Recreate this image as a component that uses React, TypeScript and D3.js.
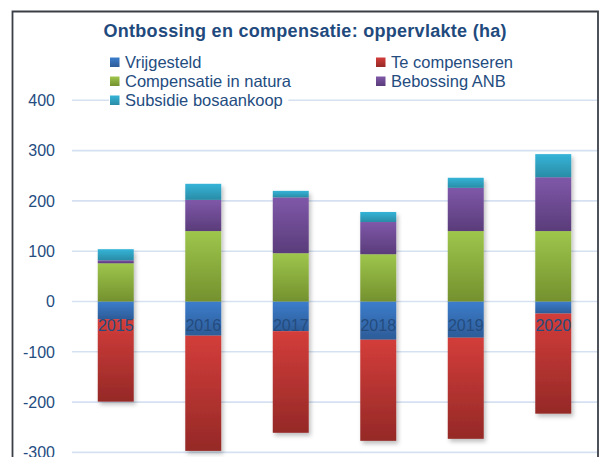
import React from "react";
import * as d3 from "d3";

const years = ["2015", "2016", "2017", "2018", "2019", "2020"];
const vrijgesteld = [-35, -68, -59, -76, -72, -24];
const teCompenseren = [-164, -229, -202, -201, -201, -199];
const compensatieNatura = [76, 140, 96, 94, 140, 140];
const bebossingANB = [6, 62, 111, 64, 86, 107];
const subsidieBosaankoop = [22, 32, 13, 20, 20, 46];
const yTicks = [-300, -200, -100, 0, 100, 200, 300, 400];

const seriesNames = ["Vrijgesteld", "Te compenseren", "Compensatie in natura", "Bebossing ANB", "Subsidie bosaankoop"];
const seriesValues = [vrijgesteld, teCompenseren, compensatieNatura, bebossingANB, subsidieBosaankoop];
const seriesColors = [
  ["#3C7DCC", "#2D5C98"],
  ["#D33D3A", "#952927"],
  ["#9EC64C", "#74912E"],
  ["#7F58A9", "#5A3C7A"],
  ["#35B4D8", "#2A8CA6"],
];

const W = 600;
const H = 457;
const textColor = "#244C7F";
const font = "'Liberation Sans', Arial, sans-serif";

export default function App() {
  const rows = years.map((y, i) => {
    const r: any = { year: y };
    seriesNames.forEach((n, k) => (r[n] = seriesValues[k][i]));
    return r;
  });
  const stacked = d3.stack().keys(seriesNames).offset(d3.stackOffsetDiverging)(rows);

  const x = d3.scaleBand().domain(years).range([72, 597]).paddingInner(0.589).paddingOuter(0.2945);
  const y = d3.scaleLinear().domain([-300, 400]).range([452.4, 100.3]);

  const legendPos = [
    [110, 62],
    [376, 62],
    [110, 81],
    [376, 81],
    [110, 100],
  ];

  return (
    <svg width={W} height={H} style={{ position: "fixed", left: 0, top: 0, background: "#fff" }} fontFamily={font}>
      <defs>
        {seriesColors.map((c, i) => (
          <linearGradient key={i} id={`g${i}`} x1="0" y1="0" x2="0" y2="1">
            <stop offset="0" stopColor={c[0]} />
            <stop offset="1" stopColor={c[1]} />
          </linearGradient>
        ))}
        <filter id="sh" x="-20%" y="-20%" width="150%" height="150%">
          <feDropShadow dx="2" dy="3" stdDeviation="2" floodColor="#000" floodOpacity="0.25" />
        </filter>
      </defs>
      <rect x={0} y={0} width={W} height={H} fill="#fff" />
      {/* frame */}
      <path d={`M12.5,${H + 2} V11.5 H598 V${H + 2}`} fill="none" stroke="#3A3F47" strokeWidth={1.8} />

      {/* gridlines */}
      {yTicks.map((t) => (
        <line key={t} x1={72} x2={597} y1={y(t)} y2={y(t)} stroke="#D5E1F1" strokeWidth={1.6} />
      ))}
      {/* y labels */}
      {yTicks.map((t) => (
        <text key={t} x={55} y={y(t)} dy="0.36em" textAnchor="end" fontSize={16} fill={textColor}>
          {t}
        </text>
      ))}

      {/* bars */}
      <g filter="url(#sh)">
        {stacked.map((s, k) =>
          s.map((d, i) => {
            const y0 = y(Math.max(d[0], d[1]));
            const y1 = y(Math.min(d[0], d[1]));
            return (
              <rect
                key={`${k}-${i}`}
                x={x(years[i])}
                y={y0}
                width={x.bandwidth()}
                height={Math.max(0, y1 - y0)}
                fill={`url(#g${k})`}
              />
            );
          })
        )}
      </g>

      {/* category labels */}
      {years.map((yr) => (
        <text key={yr} x={(x(yr) as number) + x.bandwidth() / 2} y={y(0) + 24} dy="0.36em" textAnchor="middle" fontSize={16} fill={textColor}>
          {yr}
        </text>
      ))}

      {/* title */}
      <text x={305} y={37} textAnchor="middle" fontSize={18} fontWeight="bold" fill="#1F4A7D" textLength={403} lengthAdjust="spacing">
        Ontbossing en compensatie: oppervlakte (ha)
      </text>

      {/* legend */}
      {seriesNames.map((n, k) => {
        const [lx, ly] = legendPos[k];
        return (
          <g key={n}>
            <rect x={lx - 1} y={ly - 9} width={n.length * 8.6 + 16} height={18} fill="#fff" />
            <rect x={lx} y={ly - 4.5} width={9.5} height={9.5} fill={`url(#g${k})`} />
            <text x={lx + 15} y={ly} dy="0.36em" fontSize={16.5} fill={textColor}>
              {n}
            </text>
          </g>
        );
      })}
    </svg>
  );
}
